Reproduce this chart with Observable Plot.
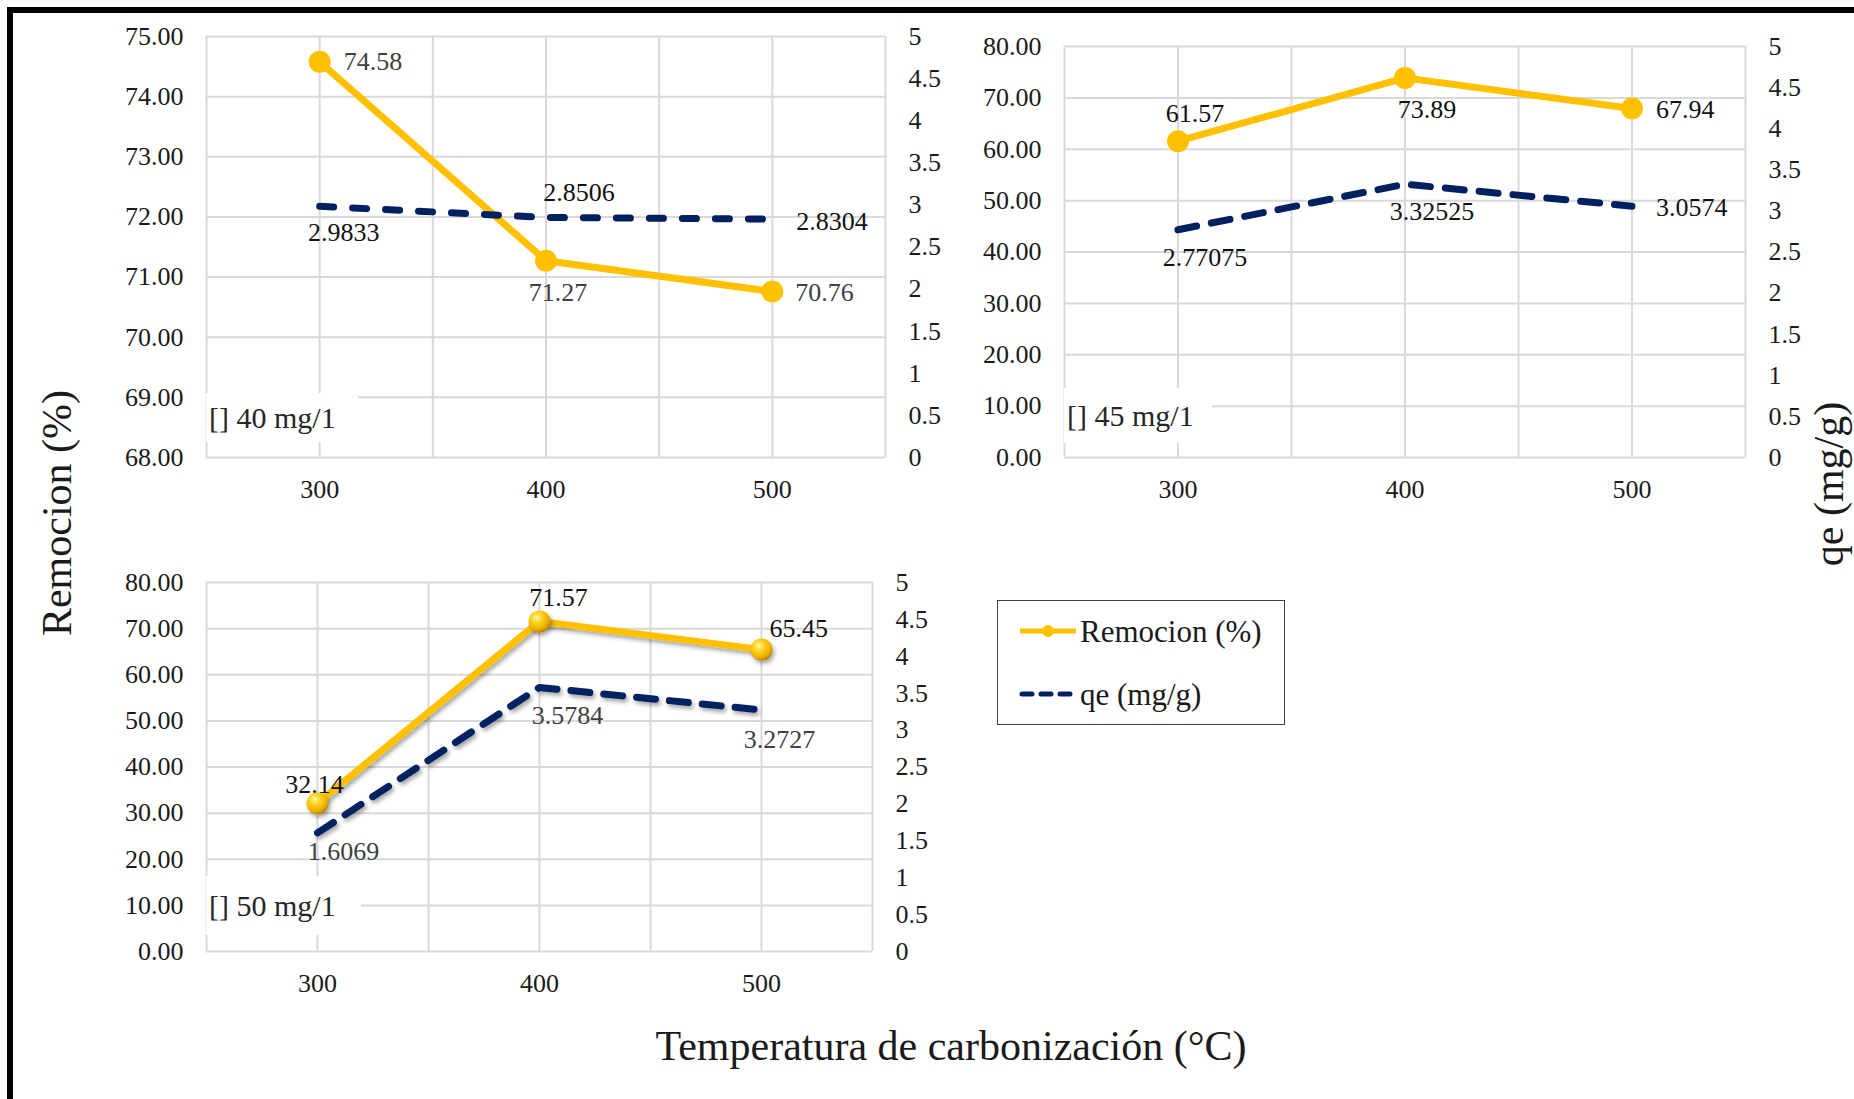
<!DOCTYPE html>
<html>
<head>
<meta charset="utf-8">
<script src="https://cdn.jsdelivr.net/npm/d3@7"></script>
<script src="https://cdn.jsdelivr.net/npm/@observablehq/plot@0.6"></script>
<style>
html, body { margin: 0; padding: 0; background: #fff; }
#root { position: relative; width: 1854px; height: 1099px; overflow: hidden; background: #fff;
  font-family: "Liberation Serif", serif; color: #1a1a1a; }
.abs { position: absolute; }
.frame { position: absolute; left: 7px; top: 7px; width: 1860px; height: 1100px;
  border-top: 6px solid #000; border-left: 6px solid #000; box-sizing: border-box; }
.title { position: absolute; white-space: nowrap; font-size: 42px; color: #1a1a1a; line-height: 1; }
.plabel { position: absolute; background: #fff; font-size: 30px; color: #262626; line-height: 1;
  display: flex; align-items: center; box-sizing: border-box; padding-left: 3px; white-space: nowrap; }
.legend { position: absolute; border: 1.5px solid #404040; background: #fff; box-sizing: border-box; }
.legend .item { position: absolute; left: 20px; display: flex; align-items: center; font-size: 31px; white-space: nowrap; line-height: 1; }
</style>
</head>
<body>
<div id="root"></div>
<script>
// ---------------- data ----------------
const temps = [300, 400, 500];
const rem40 = [74.58, 71.27, 70.76];
const qe40 = [2.9833, 2.8506, 2.8304];
const rem45 = [61.57, 73.89, 67.94];
const qe45 = [2.77075, 3.32525, 3.0574];
const rem50 = [32.14, 71.57, 65.45];
const qe50 = [1.6069, 3.5784, 3.2727];
const yTicks40 = [68, 69, 70, 71, 72, 73, 74, 75];
const yTicks45 = [0, 10, 20, 30, 40, 50, 60, 70, 80];
const yTicks50 = [0, 10, 20, 30, 40, 50, 60, 70, 80];
const qeTicks = [0, 0.5, 1, 1.5, 2, 2.5, 3, 3.5, 4, 4.5, 5];
const xTicks = [300, 400, 500];
const xGrid = [250, 300, 350, 400, 450, 500, 550];
const panelLabels = ["[] 40 mg/1", "[] 45 mg/1", "[] 50 mg/1"];
const seriesNames = ["Remocion (%)", "qe (mg/g)"];
const xTitle = "Temperatura de carbonización (°C)";
const yTitle = "Remocion (%)";
const y2Title = "qe (mg/g)";

// ---------------- styles ----------------
const YELLOW = "#FFC000";
const NAVY = "#002060";
const GRID = "#d9d9d9";
const GRAYTXT = "#404040";
const BLACKTXT = "#111111";
const FONT = "Liberation Serif";

const root = document.getElementById("root");

function makePanel(cfg) {
  const [y0, y1] = cfg.yDomain;
  const qeMax = qeTicks[qeTicks.length - 1];
  const toY = v => y0 + v * (y1 - y0) / qeMax;
  const data = temps.map((t, i) => ({t, rem: cfg.rem[i], qe: cfg.qe[i]}));
  const labelMarks = [];
  data.forEach((d, i) => {
    const rl = cfg.remLab[i], ql = cfg.qeLab[i];
    labelMarks.push(Plot.text([d], {x: "t", y: "rem", text: dd => String(dd.rem), dx: rl[0], dy: rl[1],
      textAnchor: rl[2] || "middle", fill: cfg.remColor, fontSize: 26, fontFamily: FONT}));
    labelMarks.push(Plot.text([d], {x: "t", y: dd => toY(dd.qe), text: dd => String(dd.qe), dx: ql[0], dy: ql[1],
      textAnchor: ql[2] || "middle", fill: cfg.qeColor, fontSize: 26, fontFamily: FONT}));
  });
  const plot = Plot.plot({
    width: cfg.width, height: cfg.height,
    marginLeft: cfg.m[0], marginRight: cfg.m[1], marginTop: cfg.m[2], marginBottom: cfg.m[3],
    x: {domain: [xGrid[0], xGrid[xGrid.length - 1]]},
    y: {domain: cfg.yDomain},
    style: {fontFamily: FONT, fontSize: "26px", color: "#1a1a1a", background: "transparent", overflow: "visible"},
    marks: [
      Plot.gridX(xGrid, {stroke: GRID, strokeOpacity: 1, strokeWidth: 2}),
      Plot.gridY(cfg.yTicks, {stroke: GRID, strokeOpacity: 1, strokeWidth: 2}),
      Plot.axisX(xTicks, {anchor: "bottom", tickSize: 0, tickPadding: 22, tickFormat: d => String(d), label: null, fontSize: 26, fontFamily: FONT}),
      Plot.axisY(cfg.yTicks, {anchor: "left", tickSize: 0, tickPadding: 23, tickFormat: d3.format(".2f"), label: null, fontSize: 26, fontFamily: FONT}),
      Plot.axisY(qeTicks, {anchor: "right", y: toY, tickSize: 0, tickPadding: 23, tickFormat: d => String(d), label: null, fontSize: 26, fontFamily: FONT}),
      Plot.line(data, {x: "t", y: "rem", stroke: YELLOW, strokeWidth: 7}),
      Plot.dot(data, {x: "t", y: "rem", r: 11, fill: cfg.sphere ? "url(#sphere)" : YELLOW}),
      Plot.line(data, {x: "t", y: d => toY(d.qe), stroke: NAVY, strokeWidth: 7, strokeDasharray: cfg.dash,
        strokeLinecap: "round"}),
      ...labelMarks
    ]
  });
  if (cfg.sphere) {
    const defs = d3.select(plot).insert("defs", ":first-child");
    defs.html(`
      <radialGradient id="sphere" cx="38%" cy="32%" r="70%">
        <stop offset="0%" stop-color="#FFF7B0"/>
        <stop offset="35%" stop-color="#FFD21A"/>
        <stop offset="80%" stop-color="#E8AC00"/>
        <stop offset="100%" stop-color="#B07F00"/>
      </radialGradient>
      <filter id="shadow" x="-20%" y="-20%" width="140%" height="160%">
        <feDropShadow dx="2" dy="3" stdDeviation="2" flood-color="#000" flood-opacity="0.35"/>
      </filter>`);
    plot.querySelectorAll('g[aria-label="line"], g[aria-label="dot"]')
      .forEach(g => g.setAttribute("filter", "url(#shadow)"));
  }
  const wrap = document.createElement("div");
  wrap.className = "abs";
  wrap.style.left = cfg.left + "px";
  wrap.style.top = cfg.top + "px";
  wrap.appendChild(plot);
  root.appendChild(wrap);
}

makePanel({
  rem: rem40, qe: qe40, yDomain: [68, 75], yTicks: yTicks40,
  left: 0, top: 0, width: 960, height: 500, m: [206, 75, 36, 43],
  remLab: [[24, 0, "start"], [12, 32], [23, 1, "start"]],
  qeLab: [[24, 26], [33, -25], [24, 2, "start"]],
  remColor: GRAYTXT, qeColor: BLACKTXT, dash: "14,19", sphere: false
});
makePanel({
  rem: rem45, qe: qe45, yDomain: [0, 80], yTicks: yTicks45,
  left: 960, top: 0, width: 894, height: 500, m: [104, 109, 46, 43],
  remLab: [[17, -28], [22, 32], [24, 1, "start"]],
  qeLab: [[27, 28], [27, 28], [24, 1, "start"]],
  remColor: BLACKTXT, qeColor: BLACKTXT, dash: "19,15", sphere: false
});
makePanel({
  rem: rem50, qe: qe50, yDomain: [0, 80], yTicks: yTicks50,
  left: 0, top: 520, width: 960, height: 500, m: [206, 88, 62, 69],
  remLab: [[-3, -19], [19, -24], [8, -21, "start"]],
  qeLab: [[26, 19], [28, 28], [18, 30]],
  remColor: BLACKTXT, qeColor: GRAYTXT, dash: "19,14", sphere: true
});

// panel labels (white boxes)
const plPos = [[206, 393, 152, 49], [1064, 388, 148, 55], [206, 876, 155, 59]];
panelLabels.forEach((t, i) => {
  const d = document.createElement("div");
  d.className = "plabel";
  const [l, tp, w, h] = plPos[i];
  Object.assign(d.style, {left: l + "px", top: tp + "px", width: w + "px", height: h + "px"});
  d.textContent = t;
  root.appendChild(d);
});

// titles
function title(text, cx, cy, rot) {
  const d = document.createElement("div");
  d.className = "title";
  d.textContent = text;
  d.style.left = cx + "px";
  d.style.top = cy + "px";
  d.style.transform = `translate(-50%, -50%)` + (rot ? ` rotate(${rot}deg)` : "");
  root.appendChild(d);
}
title(yTitle, 57, 513, -90);
title(y2Title, 1829, 484, -90);
title(xTitle, 951, 1046, 0);

// legend
const lg = document.createElement("div");
lg.className = "legend";
Object.assign(lg.style, {left: "997px", top: "600px", width: "288px", height: "125px"});
lg.innerHTML = `
  <div class="item" style="top:12px;height:36px;">
    <svg width="60" height="20" style="margin-right:2px"><line x1="2" y1="10" x2="58" y2="10" stroke="${YELLOW}" stroke-width="5"/><circle cx="30" cy="10" r="6" fill="${YELLOW}"/></svg>
    <span>${seriesNames[0]}</span></div>
  <div class="item" style="top:75px;height:36px;">
    <svg width="60" height="20" style="margin-right:2px"><line x1="4" y1="10" x2="56" y2="10" stroke="${NAVY}" stroke-width="5" stroke-dasharray="10,9" stroke-linecap="round"/></svg>
    <span>${seriesNames[1]}</span></div>`;
root.appendChild(lg);

// outer frame
const fr = document.createElement("div");
fr.className = "frame";
root.appendChild(fr);
</script>
</body>
</html>
